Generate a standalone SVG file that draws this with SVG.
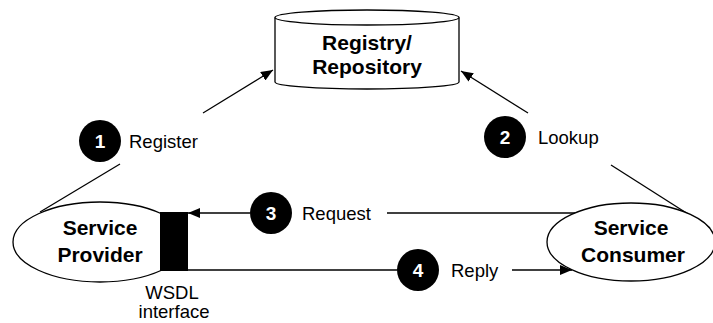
<svg xmlns="http://www.w3.org/2000/svg" width="713" height="323" viewBox="0 0 713 323">
<defs>
<marker id="arr" viewBox="0 0 12 10" refX="12" refY="5" markerWidth="12" markerHeight="10" markerUnits="userSpaceOnUse" orient="auto">
<path d="M0,0 L12,5 L0,10 Z" fill="#000"/>
</marker>
<style>
.shape{fill:#fff;stroke:#000;stroke-width:1.3}
.ln{fill:none;stroke:#000;stroke-width:1.3}
.bold{font-family:"Liberation Sans",Arial,Helvetica,sans-serif;font-weight:bold;font-size:21px;fill:#000;text-anchor:middle}
.lbl{font-family:"Liberation Sans",Arial,Helvetica,sans-serif;font-size:18.5px;fill:#000}
.num{font-family:"Liberation Sans",Arial,Helvetica,sans-serif;font-weight:bold;font-size:19px;fill:#fff;text-anchor:middle}
.badge{fill:#000}
</style>
</defs>
<rect width="713" height="323" fill="#fff"/>

<g id="connectors">
<line class="ln" x1="40" y1="212" x2="120" y2="164"/>
<line class="ln" x1="203" y1="113" x2="273" y2="70" marker-end="url(#arr)"/>
<line class="ln" x1="710" y1="228" x2="611" y2="165"/>
<line class="ln" x1="528" y1="113" x2="461" y2="71" marker-end="url(#arr)"/>
<line class="ln" x1="575" y1="213" x2="387" y2="213"/>
<line class="ln" x1="250" y1="213" x2="188" y2="213" marker-end="url(#arr)"/>
<line class="ln" x1="188" y1="270" x2="397" y2="270"/>
<line class="ln" x1="512" y1="270" x2="572" y2="270" marker-end="url(#arr)"/>
</g>

<g id="registry">
<path class="shape" d="M275,17.5 L275,82 A92,7 0 0 0 459,82 L459,17.5"/>
<ellipse class="shape" cx="367" cy="17.5" rx="92" ry="7.5"/>
<text class="bold" x="367" y="50">Registry/</text>
<text class="bold" x="367" y="74">Repository</text>
</g>

<g id="provider">
<ellipse class="shape" cx="100" cy="242" rx="87" ry="40"/>
<text class="bold" x="100" y="235">Service</text>
<text class="bold" x="100" y="262">Provider</text>
</g>

<g id="wsdl">
<rect x="160" y="212" width="28" height="59" fill="#000"/>
<text class="lbl" x="172" y="299" text-anchor="middle">WSDL</text>
<text class="lbl" x="174" y="318" text-anchor="middle">interface</text>
</g>

<g id="consumer">
<ellipse class="shape" cx="631" cy="242" rx="84" ry="39"/>
<text class="bold" x="631" y="235">Service</text>
<text class="bold" x="633" y="262">Consumer</text>
</g>

<g id="step1">
<circle class="badge" cx="100" cy="141" r="21"/>
<text class="num" x="100" y="148">1</text>
<text class="lbl" x="129" y="147.5">Register</text>
</g>

<g id="step2">
<circle class="badge" cx="505" cy="137" r="21"/>
<text class="num" x="505" y="144">2</text>
<text class="lbl" x="538" y="143.5">Lookup</text>
</g>

<g id="step3">
<circle class="badge" cx="271" cy="213" r="21"/>
<text class="num" x="271" y="220">3</text>
<text class="lbl" x="302" y="219.5">Request</text>
</g>

<g id="step4">
<circle class="badge" cx="418" cy="270" r="21"/>
<text class="num" x="418" y="277">4</text>
<text class="lbl" x="451" y="276.5">Reply</text>
</g>
</svg>
